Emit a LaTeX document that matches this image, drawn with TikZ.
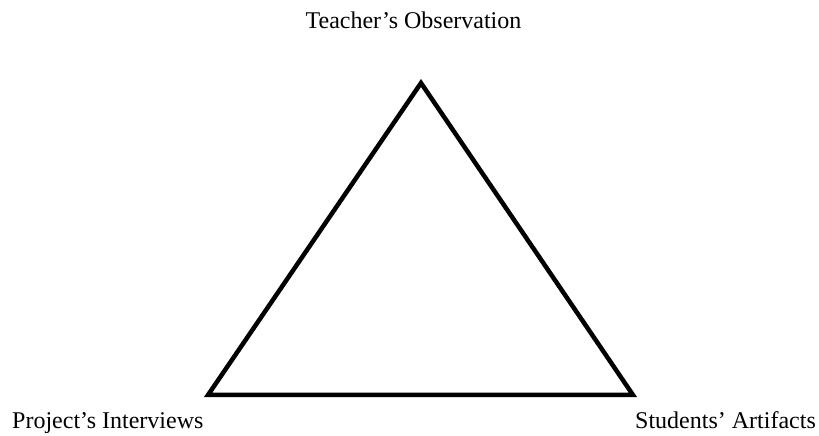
\documentclass[tikz,border=0pt]{standalone}
\usepackage{fontspec}
\setmainfont{Liberation Serif}
\begin{document}
\begin{tikzpicture}[x=1pt,y=1pt,
  lbl/.style={inner sep=0pt,font=\fontsize{24}{28}\selectfont},
  edge/.style={line width=4.5pt,line join=miter}]
\useasboundingbox (0,0) rectangle (819,436);
\coordinate (top) at (421,353);
\coordinate (left) at (208,41);
\coordinate (right) at (633,41);
\draw[edge] (top) -- (left) -- (right) -- cycle;
\node[lbl,anchor=base] (t) at (413.5,407) {Teacher’s Observation};
\node[lbl,anchor=base west] (p) at (12,7) {Project’s Interviews};
\node[lbl,anchor=base west] (s) at (635,7) {Students’ Artifacts};
\end{tikzpicture}
\end{document}
